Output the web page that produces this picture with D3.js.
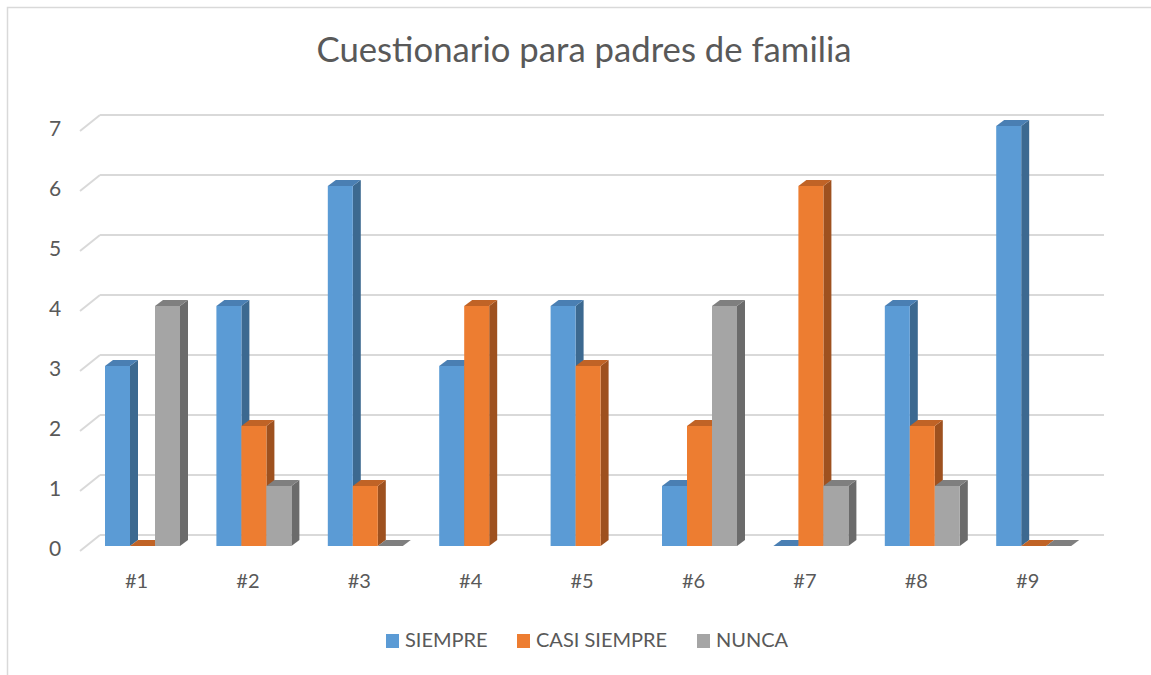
<!DOCTYPE html>
<html>
<head>
<meta charset="utf-8">
<script src="https://cdn.jsdelivr.net/npm/d3@7"></script>
<style>
  body { margin: 0; background: #fff; }
  text { font-family: Lato, "Open Sans", sans-serif; fill: #595959; }
</style>
</head>
<body>
<div class="chart"></div>
<script>
var categories = ["#1", "#2", "#3", "#4", "#5", "#6", "#7", "#8", "#9"];
var seriesNames = ["SIEMPRE", "CASI SIEMPRE", "NUNCA"];
var siempre = [3, 4, 6, 3, 4, 1, 0, 4, 7];
var casiSiempre = [0, 2, 1, 4, 3, 2, 6, 2, 0];
var nunca = [4, 1, 0, null, null, 4, 1, 1, 0];
var yTicks = [0, 1, 2, 3, 4, 5, 6, 7];

var colors = {
    "SIEMPRE": { front: "#5b9bd5", side: "#3c6990", top: "#4a7fb3" },
    "CASI SIEMPRE": { front: "#ed7d31", side: "#9e511f", top: "#c06326" },
    "NUNCA": { front: "#a5a5a5", side: "#6b6b6b", top: "#7f7f7f" }
};

var W = 1151, H = 675;
var svg = d3.select(".chart").append("svg").attr("width", W).attr("height", H);

// chart border
svg.append("rect").attr("x", 7.5).attr("y", 7.5).attr("width", W + 10).attr("height", H + 10)
    .attr("fill", "none").attr("stroke", "#d9d9d9").attr("stroke-width", 1.5);

svg.append("text").attr("x", 584).attr("y", 53)
    .attr("text-anchor", "middle").attr("dominant-baseline", "middle")
    .attr("textLength", 535).attr("lengthAdjust", "spacingAndGlyphs")
    .style("font-size", "34px").text("Cuestionario para padres de familia");

var x = d3.scaleBand().domain(categories).range([86.8, 1089.4])
    .paddingInner(0.3268).paddingOuter(0.1634);
var xs = d3.scaleBand().domain(seriesNames).range([0, x.bandwidth()]);
var y = d3.scaleLinear().domain([0, 7]).range([546, 126]);

var dx = 8, dy = 6; // bar depth

// gridlines: back wall + slanted side
var grid = svg.append("g");
yTicks.forEach(function (v) {
    grid.append("line").attr("x1", 100).attr("x2", 1104)
        .attr("y1", y(v) - 11).attr("y2", y(v) - 11)
        .attr("stroke", "#d9d9d9").attr("stroke-width", 2);
    grid.append("line").attr("x1", 80).attr("y1", y(v) + 5)
        .attr("x2", 100).attr("y2", y(v) - 11)
        .attr("stroke", "#d9d9d9").attr("stroke-width", 2);
});

svg.append("g").selectAll("text").data(yTicks).enter().append("text")
    .attr("x", 55).attr("y", function (d) { return y(d) + 5; })
    .attr("text-anchor", "middle").attr("dominant-baseline", "middle")
    .style("font-size", "21px").text(function (d) { return d; });

var rows = [];
categories.forEach(function (c, i) {
    [siempre, casiSiempre, nunca].forEach(function (arr, j) {
        if (arr[i] !== null) rows.push({ cat: c, s: seriesNames[j], v: arr[i] });
    });
});

var bars = svg.append("g").selectAll("g").data(rows).enter().append("g");
bars.each(function (d) {
    var g = d3.select(this);
    var x0 = x(d.cat) + xs(d.s), w = xs.bandwidth();
    var yt = y(d.v), yb = y(0);
    var c = colors[d.s];
    if (d.v > 0) {
        g.append("path").attr("fill", c.side).attr("d",
            "M" + (x0 + w) + "," + yt + "L" + (x0 + w + dx) + "," + (yt - dy) +
            "L" + (x0 + w + dx) + "," + (yb - dy) + "L" + (x0 + w) + "," + yb + "Z");
        g.append("rect").attr("x", x0).attr("y", yt).attr("width", w).attr("height", yb - yt)
            .attr("fill", c.front);
    }
    g.append("path").attr("fill", c.top).attr("d",
        "M" + x0 + "," + yt + "L" + (x0 + dx) + "," + (yt - dy) +
        "L" + (x0 + w + dx) + "," + (yt - dy) + "L" + (x0 + w) + "," + yt + "Z");
});

svg.append("g").selectAll("text").data(categories).enter().append("text")
    .attr("x", function (d) { return x(d) + x.bandwidth() / 2 - 6; })
    .attr("y", 583).attr("text-anchor", "middle").attr("dominant-baseline", "middle")
    .style("font-size", "20px").text(function (d) { return d; });

// legend
var legendX = [386, 517, 697];
var legend = svg.append("g").selectAll("g").data(seriesNames).enter().append("g")
    .attr("transform", function (d, i) { return "translate(" + legendX[i] + ",634)"; });
legend.append("rect").attr("width", 13).attr("height", 14)
    .attr("fill", function (d) { return colors[d].front; });
legend.append("text").attr("x", 19).attr("y", 8).attr("dominant-baseline", "middle")
    .style("font-size", "20px").text(function (d) { return d; });
</script>
</body>
</html>
